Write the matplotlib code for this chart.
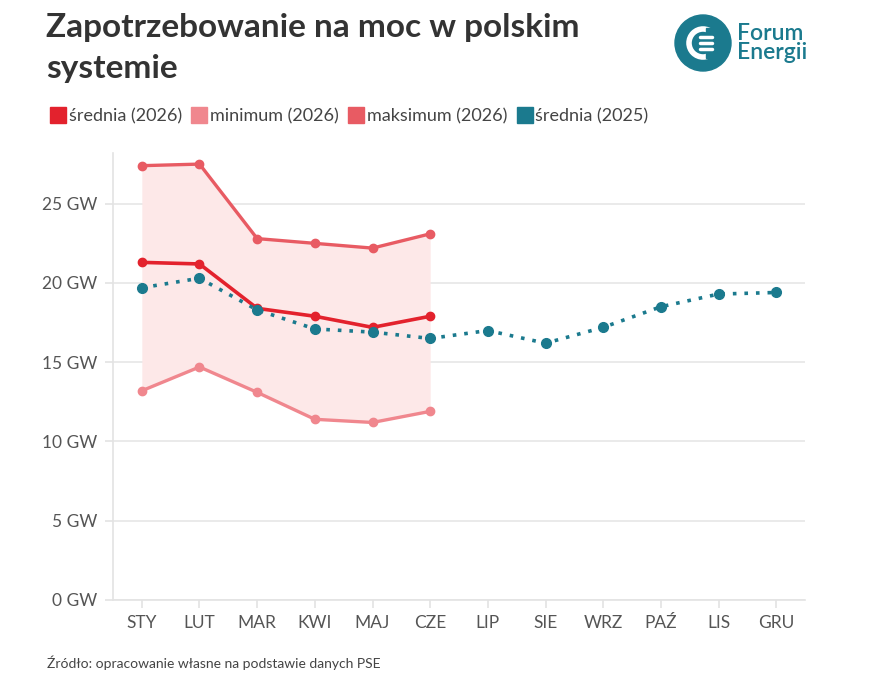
import matplotlib.pyplot as plt
from matplotlib.patches import Circle
from matplotlib.lines import Line2D

plt.rcParams["font.family"] = ["Lato", "DejaVu Sans"]

months = ["STY", "LUT", "MAR", "KWI", "MAJ", "CZE", "LIP", "SIE", "WRZ", "PAŹ", "LIS", "GRU"]
avg_2026 = [21.3, 21.2, 18.4, 17.9, 17.2, 17.9]
min_2026 = [13.2, 14.7, 13.1, 11.4, 11.2, 11.9]
max_2026 = [27.4, 27.5, 22.8, 22.5, 22.2, 23.1]
avg_2025 = [19.7, 20.3, 18.3, 17.1, 16.9, 16.5, 17.0, 16.2, 17.2, 18.5, 19.3, 19.4]
yticks = [0, 5, 10, 15, 20, 25]

C_AVG26 = "#e3222d"
C_MIN26 = "#f0878e"
C_MAX26 = "#e85b63"
C_AVG25 = "#1b7a8e"
C_FILL = "#fde8e8"

fig = plt.figure(figsize=(8.84, 6.79), dpi=100)
ax = fig.add_axes([113 / 884, 1 - 600 / 679, (805 - 113) / 884, (600 - 153) / 679])

x26 = list(range(len(avg_2026)))
x25 = list(range(len(avg_2025)))

ax.fill_between(x26, min_2026, max_2026, color=C_FILL, lw=0, zorder=1)
ax.plot(x26, max_2026, color=C_MAX26, lw=2.4, marker="o", ms=6, zorder=3)
ax.plot(x26, min_2026, color=C_MIN26, lw=2.4, marker="o", ms=6, zorder=3)
ax.plot(x25, avg_2025, color=C_AVG25, lw=2.6, ls=(0, (1, 2.2)), marker="o", ms=7, zorder=4)
ax.plot(x26, avg_2026, color=C_AVG26, lw=2.6, marker="o", ms=6, zorder=3)

ax.set_xlim(-0.5, 11.5)
ax.set_ylim(0, 28.2)
ax.set_xticks(x25)
ax.set_xticklabels(months)
ax.set_yticks(yticks)
ax.set_yticklabels([f"{v} GW" for v in yticks])
ax.grid(axis="y", color="#e6e6e6", lw=1.2)
ax.set_axisbelow(True)
for s in ["top", "right"]:
    ax.spines[s].set_visible(False)
for s in ["left", "bottom"]:
    ax.spines[s].set_color("#e3e3e3")
    ax.spines[s].set_linewidth(1.2)
ax.tick_params(colors="#e3e3e3", labelcolor="#555555", labelsize=12.5, length=6, width=1.2, pad=5)

# title
fig.text(46 / 884, 1 - 13 / 679, "Zapotrzebowanie na moc w polskim\nsystemie",
         fontsize=24, fontweight="bold", color="#333333", va="top", ha="left", linespacing=1.5)

# legend
handles = [Line2D([], [], color=c, marker="s", ls="", ms=12)
           for c in [C_AVG26, C_MIN26, C_MAX26, C_AVG25]]
labels = ["średnia (2026)", "minimum (2026)", "maksimum (2026)", "średnia (2025)"]
fig.legend(handles, labels, loc="center left", bbox_to_anchor=(34 / 884, 1 - 116 / 679),
           ncol=4, frameon=False, fontsize=13, handletextpad=0.15, columnspacing=0.5,
           handlelength=0.9, labelcolor="#444444")

# logo
lax = fig.add_axes([670 / 884, 1 - 80 / 679, 180 / 884, 76 / 679])
lax.set_xlim(0, 180)
lax.set_ylim(0, 76)
lax.set_aspect("equal")
lax.axis("off")
lax.add_patch(Circle((33, 37), 28, color=C_AVG25))
lax.add_patch(Circle((33, 37), 14, fill=False, ec="white", lw=4))
lax.add_patch(plt.Rectangle((36, 22), 14, 30, color=C_AVG25))
for yy in [31, 37, 43]:
    lax.plot([30, 42], [yy, yy], color="white", lw=2.5, solid_capstyle="round")
lax.text(67, 37, "Forum\nEnergii", color=C_AVG25, fontsize=16.5, fontweight="semibold",
         va="center", ha="left", linespacing=0.85)

fig.text(47 / 884, 1 - 663 / 679, "Źródło: opracowanie własne na podstawie danych PSE",
         fontsize=10, color="#444444", va="center", ha="left")

fig.savefig("out.png", dpi=100)
